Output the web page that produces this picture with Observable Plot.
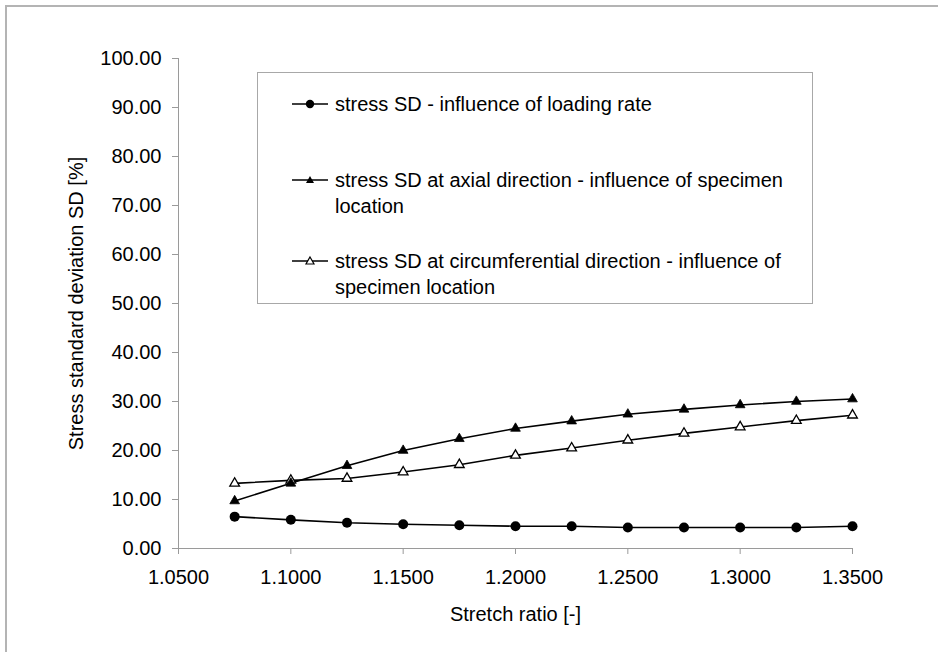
<!DOCTYPE html>
<html>
<head>
<meta charset="utf-8">
<script src="https://cdn.jsdelivr.net/npm/d3@7"></script>
<script src="https://cdn.jsdelivr.net/npm/@observablehq/plot@0.6"></script>
<style>
  html, body { margin: 0; padding: 0; background: #fff; }
  body { width: 938px; height: 652px; overflow: hidden; position: relative; font-family: Arial, "Liberation Sans", sans-serif; }
  #chart { position: absolute; left: 0; top: 0; }
  #frame { position: absolute; left: 5px; top: 5px; width: 1000px; height: 700px; border-left: 2px solid #b4b4b4; border-top: 2px solid #b4b4b4; pointer-events: none; }
  #legend { position: absolute; left: 257px; top: 72px; width: 556px; height: 232px; border: 1px solid #a8a8a8; background: #fff; box-sizing: border-box; }
  .entry { position: absolute; left: 34px; display: flex; align-items: flex-start; font-size: 20px; line-height: 26px; color: #000; }
  .entry svg { flex: none; margin-right: 6px; margin-top: 0px; }
</style>
</head>
<body>
<div id="chart"></div>
<div id="frame"></div>
<div id="legend"></div>
<script>
// Data
const stretch = [1.075, 1.100, 1.125, 1.150, 1.175, 1.200, 1.225, 1.250, 1.275, 1.300, 1.325, 1.350];
const loadingRate = [6.5, 5.85, 5.25, 4.95, 4.75, 4.55, 4.55, 4.3, 4.3, 4.3, 4.3, 4.55];
const axialLocation = [9.7, 13.3, 16.9, 20.0, 22.4, 24.5, 26.0, 27.4, 28.4, 29.3, 30.0, 30.5];
const circLocation = [13.3, 13.9, 14.3, 15.6, 17.1, 19.0, 20.5, 22.1, 23.5, 24.8, 26.1, 27.2];
const seriesNames = [
  "stress SD - influence of loading rate",
  "stress SD at axial direction - influence of specimen location",
  "stress SD at circumferential direction - influence of specimen location"
];
const legendLines = [
  ["stress SD - influence of loading rate"],
  ["stress SD at axial direction - influence of specimen", "location"],
  ["stress SD at circumferential direction - influence of", "specimen location"]
];
const yTicks = [0, 10, 20, 30, 40, 50, 60, 70, 80, 90, 100];
const xTicks = [1.05, 1.10, 1.15, 1.20, 1.25, 1.30, 1.35];
const xLabel = "Stretch ratio [-]";
const yLabel = "Stress standard deviation SD [%]";

const seriesValues = [loadingRate, axialLocation, circLocation];
const rows = [];
seriesValues.forEach((vals, si) => vals.forEach((v, i) => rows.push({series: seriesNames[si], s: si, x: stretch[i], y: v})));
const s0 = rows.filter(d => d.s === 0), s1 = rows.filter(d => d.s === 1), s2 = rows.filter(d => d.s === 2);

const axisGray = "#9a9a9a";
const chart = Plot.plot({
  width: 938,
  height: 652,
  marginLeft: 178,
  marginRight: 86,
  marginTop: 58,
  marginBottom: 104,
  style: {fontFamily: 'Arial, "Liberation Sans", sans-serif', fontSize: "20px", background: "transparent", color: "#000"},
  x: {domain: [1.05, 1.35]},
  y: {domain: [0, 100]},
  marks: [
    Plot.ruleX([1.05], {stroke: axisGray, strokeWidth: 1}),
    Plot.ruleY([0], {stroke: axisGray, strokeWidth: 1}),
    Plot.axisY({ticks: yTicks, tickFormat: d => d.toFixed(2), tickSize: 6, tickPadding: 11, stroke: axisGray, fill: "#000", fontSize: 20,
      label: yLabel, labelAnchor: "center", labelOffset: 110, labelArrow: "none"}),
    Plot.axisX({ticks: xTicks, tickFormat: d => d.toFixed(4), tickSize: 6, tickPadding: 15, stroke: axisGray, fill: "#000", fontSize: 20,
      label: xLabel, labelAnchor: "center", labelOffset: 72, labelArrow: "none"}),
    Plot.line(rows, {x: "x", y: "y", z: "series", stroke: "#000", strokeWidth: 1.6}),
    Plot.dot(s0, {x: "x", y: "y", r: 5, fill: "#000", stroke: "none"}),
    Plot.dot(s2, {x: "x", y: "y", r: 3.6, symbol: "triangle", fill: "#fff", stroke: "#000", strokeWidth: 1.3}),
    Plot.dot(s1, {x: "x", y: "y", r: 3.6, symbol: "triangle", fill: "#000", stroke: "#000", strokeWidth: 0.8})
  ]
});
document.getElementById("chart").appendChild(chart);

// Legend (HTML overlay)
const legend = document.getElementById("legend");
const entryTops = [18, 94, 175];
const markers = [
  '<circle cx="18" cy="13" r="4.2" fill="#000"/>',
  '<path d="M18,9 L22,16 L14,16 Z" fill="#000"/>',
  '<path d="M18,9 L22,16 L14,16 Z" fill="#fff" stroke="#000" stroke-width="1.2"/>'
];
legendLines.forEach((lines, i) => {
  const div = document.createElement("div");
  div.className = "entry";
  div.style.top = entryTops[i] + "px";
  div.innerHTML = '<svg width="37" height="26"><line x1="0" x2="36" y1="13" y2="13" stroke="#000" stroke-width="1.6"/>' + markers[i] + '</svg><span>' + lines.join("<br>") + '</span>';
  legend.appendChild(div);
});
</script>
</body>
</html>
